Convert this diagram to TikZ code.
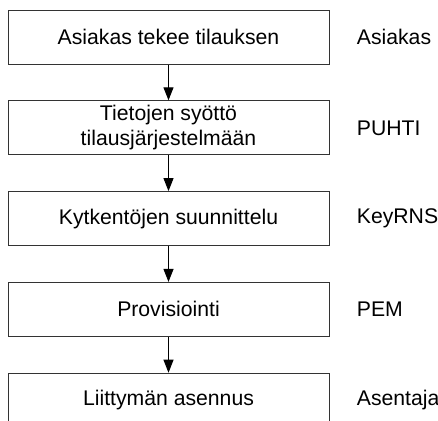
\documentclass[tikz,border=0pt]{standalone}
\usepackage{fontspec}
\setmainfont{Liberation Sans}
\usepackage{tikz}
\usetikzlibrary{positioning}
\usetikzlibrary{arrows.meta}

\begin{document}
\begin{tikzpicture}[
    node distance=17.9pt and 13.5pt,
    stepbox/.style={draw=black!80,line width=0.5pt,minimum width=160.5pt,minimum height=27pt,align=center,inner sep=0pt,font=\fontsize{10.6}{12.5}\selectfont},
    role/.style={anchor=west,inner sep=0pt,font=\fontsize{10.6}{12.5}\selectfont}
    ]
    \clip (0,0) rectangle (219pt,-210pt);
    \useasboundingbox (0,0) rectangle (219pt,-210pt);

    \node[stepbox] (s1) at (84.25pt,-18.5pt) {Asiakas tekee tilauksen};
    \node[stepbox, below=of s1] (s2) {Tietojen syöttö\\tilausjärjestelmään};
    \node[stepbox, below=of s2] (s3) {Kytkentöjen suunnittelu};
    \node[stepbox, below=of s3] (s4) {Provisiointi};
    \node[stepbox, below=of s4] (s5) {Liittymän asennus};

    \node[role, right=of s1] (r1) {Asiakas};
    \node[role, right=of s2] (r2) {PUHTI};
    \node[role, right=of s3] (r3) {KeyRNS};
    \node[role, right=of s4] (r4) {PEM};
    \node[role, right=of s5] (r5) {Asentaja};

    \path[line width=0.5pt] (s1) edge[-{Triangle[width=5pt,length=6.5pt]}] (s2)
    (s2) edge[-{Triangle[width=5pt,length=6.5pt]}] (s3)
    (s3) edge[-{Triangle[width=5pt,length=6.5pt]}] (s4)
    (s4) edge[-{Triangle[width=5pt,length=6.5pt]}] (s5)
    ;

\end{tikzpicture}
\end{document}
